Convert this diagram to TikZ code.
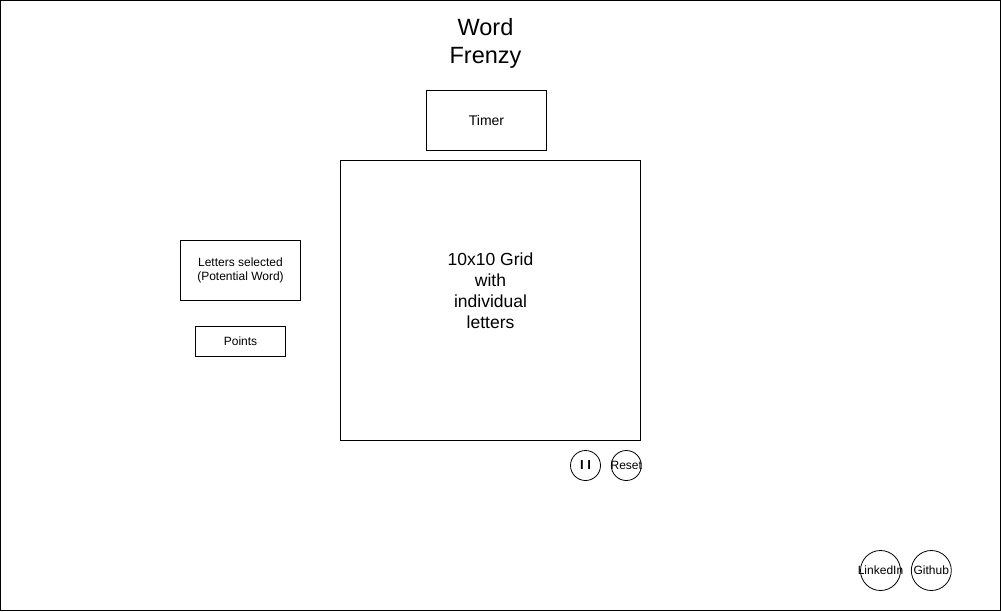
\documentclass[tikz,border=0pt]{standalone}
\usepackage{fontspec}
\setmainfont{Liberation Sans}
\usetikzlibrary{positioning}

\begin{document}
\begin{tikzpicture}[x=1pt,y=-1pt,
 box/.style={draw,line width=0.8pt,inner sep=0pt,align=center},
 btn/.style={draw,circle,line width=0.8pt,inner sep=0pt},
 btntext/.style={font=\fontsize{12}{14}\selectfont,inner sep=0pt}]
\useasboundingbox (0,0) rectangle (1001,611);
\draw[line width=0.8pt] (0.5,0.5) rectangle (1000.5,610.5);
\node[align=center,font=\fontsize{23.5}{28}\selectfont] (title) at (485.5,43.5) {Word\\Frenzy};
\node[box,minimum width=300pt,minimum height=280pt,font=\fontsize{17.5}{21}\selectfont,text depth=0pt] (grid) at (490.5,300.5) {\raisebox{53pt}{\begin{tabular}{@{}c@{}}10x10 Grid\\with\\individual\\letters\end{tabular}}};
\node[box,minimum width=120pt,minimum height=60pt,font=\fontsize{14}{16}\selectfont,text depth=0pt,above=9pt of grid,xshift=-4pt] (timer) {Timer};
\node[box,minimum width=120pt,minimum height=60pt,font=\fontsize{12}{14}\selectfont] (letters) at (240.5,270.5) {Letters selected\\(Potential Word)};
\node[box,minimum width=90pt,minimum height=30pt,font=\fontsize{12}{14}\selectfont,below=25pt of letters] (points) {Points};
\node[btn,minimum size=30pt,label={[btntext,font=\fontsize{13}{14}\selectfont\bfseries]center:I I}] (pause) at (585.5,465.5) {};
\node[btn,minimum size=30pt,right=10pt of pause,label={[btntext]center:Reset}] (reset) {};
\node[btn,minimum size=40pt,label={[btntext]center:LinkedIn}] (linkedin) at (880.5,570.5) {};
\node[btn,minimum size=40pt,right=10pt of linkedin,label={[btntext]center:Github}] (github) {};
\end{tikzpicture}
\end{document}
